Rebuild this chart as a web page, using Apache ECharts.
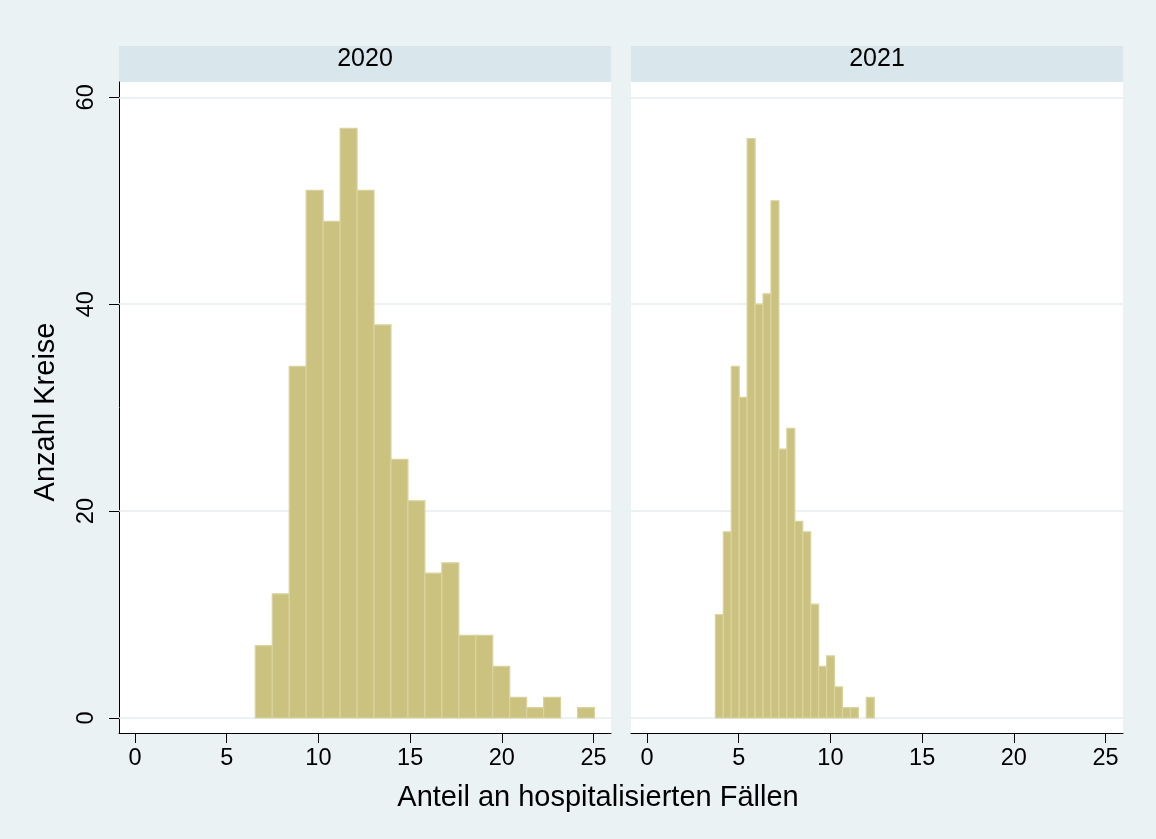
<!DOCTYPE html>
<html><head><meta charset="utf-8">
<script src="https://cdn.jsdelivr.net/npm/echarts@6/dist/echarts.min.js"></script>
<style>html,body{margin:0;padding:0;background:#eaf2f3}#chart{width:1156px;height:839px}</style>
</head><body><div id="chart"></div>
<script>
// ---- data ----
const panels = ['2020', '2021'];
const counts2020 = [7, 12, 34, 51, 48, 57, 51, 38, 25, 21, 14, 15, 8, 8, 5, 2, 1, 2, 0, 1];
const counts2021 = [10, 18, 34, 31, 56, 40, 41, 50, 26, 28, 19, 18, 11, 5, 6, 3, 1, 1, 0, 2];
const binStart2020 = 6.56, binWidth2020 = 0.9245;
const binStart2021 = 3.73, binWidth2021 = 0.433;
const xTicks = [0, 5, 10, 15, 20, 25];
const yTicks = [0, 20, 40, 60];
const xTitle = 'Anteil an hospitalisierten Fällen';
const yTitle = 'Anzahl Kreise';

// ---- chart ----
const FONT = 'Liberation Sans, Arial, Helvetica, sans-serif';
const BG = '#eaf2f3', STRIP = '#d9e6eb', GRIDC = '#e6eef1';
const BAR = '#cbc27f', BAREDGE = '#d9d39f';

function bins(start, width, counts) {
  return counts.map((c, i) => [start + i * width, start + (i + 1) * width, c]);
}
const panelData = [bins(binStart2020, binWidth2020, counts2020), bins(binStart2021, binWidth2021, counts2021)];

const gridLeft = [119, 631];
const gridW = 492, gridTop = 82, gridH = 651;

const chart = echarts.init(document.getElementById('chart'), null, {renderer: 'canvas'});

const grids = [], xAxes = [], yAxes = [], series = [], graphics = [];
panels.forEach((p, i) => {
  grids.push({left: gridLeft[i], top: gridTop, width: gridW, height: gridH, show: true,
    backgroundColor: '#ffffff', borderWidth: 0, containLabel: false});
  xAxes.push({type: 'value', gridIndex: i, min: -0.87, max: 25.95,
    axisLine: {show: true, onZero: false, lineStyle: {color: '#000', width: 1}},
    axisTick: {show: true, length: 10, lineStyle: {color: '#000', width: 1}, customValues: xTicks},
    axisLabel: {show: true, color: '#000', fontFamily: FONT, fontSize: 23.5, margin: 14, customValues: xTicks},
    splitLine: {show: false}});
  yAxes.push({type: 'value', gridIndex: i, min: -1.45, max: 61.48,
    axisLine: {show: i === 0, onZero: false, lineStyle: {color: '#000', width: 1}},
    axisTick: {show: i === 0, length: 10, lineStyle: {color: '#000', width: 1}, customValues: yTicks},
    axisLabel: {show: i === 0, rotate: 90, color: '#000', fontFamily: FONT, fontSize: 23.5, margin: 20, customValues: yTicks},
    splitLine: {show: false}});
  series.push({type: 'line', xAxisIndex: i, yAxisIndex: i, data: [], z: 1, silent: true,
    markLine: {silent: true, z: 1, symbol: 'none', animation: false, label: {show: false},
      lineStyle: {color: GRIDC, width: 1.5, type: 'solid'},
      data: yTicks.map(v => ({yAxis: v}))}});
  series.push({type: 'custom', xAxisIndex: i, yAxisIndex: i, z: 3,
    data: panelData[i], encode: {x: [0, 1], y: 2},
    renderItem: function (params, api) {
      const lo = api.value(0), hi = api.value(1), c = api.value(2);
      if (!c) return null;
      const a = api.coord([lo, 0]), b = api.coord([hi, c]);
      return {type: 'rect',
        shape: {x: a[0], y: b[1], width: b[0] - a[0], height: a[1] - b[1]},
        style: {fill: BAR, stroke: BAREDGE, lineWidth: 1.2}};
    }});
  graphics.push({type: 'rect', left: gridLeft[i], top: 46, shape: {width: gridW, height: gridTop - 46},
    style: {fill: STRIP}, silent: true});
  graphics.push({type: 'text', x: gridLeft[i] + gridW / 2, y: 59,
    style: {text: p, fill: '#000', font: '25px ' + FONT, textAlign: 'center', textVerticalAlign: 'middle'}});
});
graphics.push({type: 'text', x: 598, y: 798,
  style: {text: xTitle, fill: '#000', font: '29px ' + FONT, textAlign: 'center', textVerticalAlign: 'middle'}});
graphics.push({type: 'text', x: 46, y: 412, rotation: Math.PI / 2,
  style: {text: yTitle, fill: '#000', font: '29px ' + FONT, textAlign: 'center', textVerticalAlign: 'middle'}});

chart.setOption({
  backgroundColor: BG,
  animation: false,
  grid: grids, xAxis: xAxes, yAxis: yAxes, series: series, graphic: graphics
});
</script></body></html>
